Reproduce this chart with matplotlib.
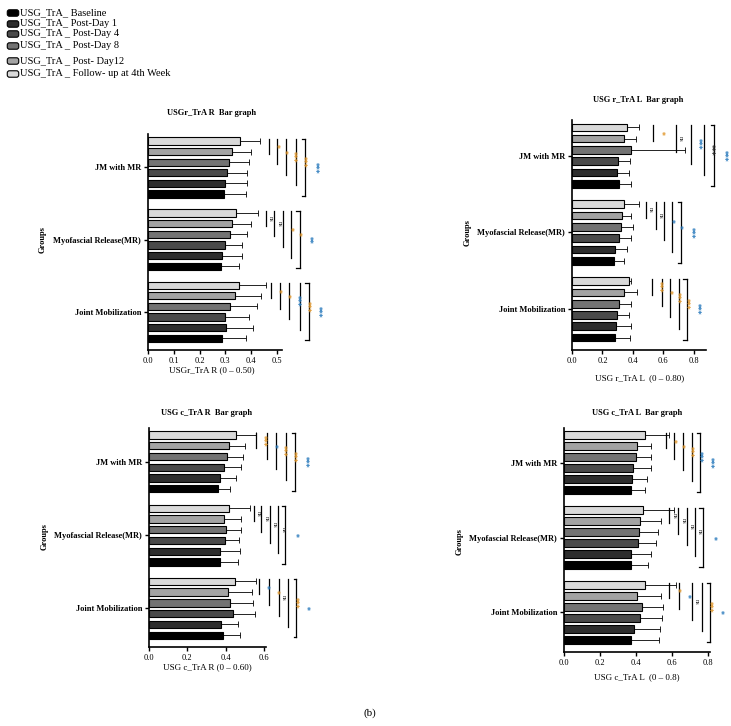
import numpy as np
import matplotlib
matplotlib.use("Agg")
import matplotlib.pyplot as plt
from matplotlib.patches import FancyBboxPatch

plt.rcParams['font.family'] = ['Liberation Serif', 'DejaVu Serif']

W, H = 731, 726

# categories (bottom -> top on the y axis)
groups = ["Joint Mobilization", "Myofascial Release(MR)", "JM with MR"]

# sessions, baseline first (drawn bottom of each group)
sessions = ["USG_TrA_ Baseline", "USG_TrA_ Post-Day 1", "USG_TrA _ Post-Day 4",
            "USG_TrA _ Post-Day 8", "USG_TrA _ Post- Day12",
            "USG_TrA _ Follow- up at 4th Week"]
colors = ['#000000', '#2d2d2d', '#4a4a4a', '#737373', '#a3a3a3', '#d9d9d9']

# --- panel values: rows = groups (JM, MR, JM with MR), cols = sessions ---
r_R_mean = [[0.286, 0.303, 0.300, 0.319, 0.338, 0.355],
            [0.285, 0.286, 0.300, 0.319, 0.325, 0.341],
            [0.295, 0.297, 0.308, 0.316, 0.325, 0.358]]
r_R_sd = [[0.095, 0.104, 0.090, 0.103, 0.100, 0.104],
          [0.070, 0.078, 0.064, 0.067, 0.074, 0.084],
          [0.086, 0.086, 0.075, 0.074, 0.074, 0.078]]

r_L_mean = [[0.280, 0.290, 0.295, 0.310, 0.340, 0.376],
            [0.273, 0.280, 0.310, 0.320, 0.326, 0.340],
            [0.310, 0.295, 0.300, 0.390, 0.340, 0.360]]
r_L_sd = [[0.100, 0.100, 0.081, 0.080, 0.090, 0.010],
          [0.067, 0.080, 0.080, 0.080, 0.064, 0.100],
          [0.080, 0.081, 0.080, 0.350, 0.080, 0.080]]

c_R_mean = [[0.386, 0.374, 0.438, 0.420, 0.412, 0.447],
            [0.369, 0.372, 0.397, 0.400, 0.393, 0.417],
            [0.358, 0.372, 0.390, 0.409, 0.417, 0.456]]
c_R_sd = [[0.087, 0.090, 0.113, 0.123, 0.124, 0.113],
          [0.097, 0.101, 0.073, 0.080, 0.087, 0.108],
          [0.066, 0.080, 0.090, 0.081, 0.083, 0.101]]

c_L_mean = [[0.374, 0.390, 0.420, 0.433, 0.407, 0.450],
            [0.370, 0.374, 0.410, 0.415, 0.420, 0.439],
            [0.374, 0.380, 0.383, 0.400, 0.407, 0.452]]
c_L_sd = [[0.155, 0.140, 0.124, 0.117, 0.133, 0.170],
          [0.097, 0.111, 0.103, 0.107, 0.120, 0.172],
          [0.078, 0.081, 0.100, 0.080, 0.078, 0.131]]

# significance: (x of line, label, colour) follow-up vs Day12, Day8, Day4, Day1, Baseline
r_R_sig = [[(0.476, '*', 'o'), (0.513, '*', 'o'), (0.549, '***', 'b'), (0.588, '***', 'o'), (0.623, '***', 'b')],
           [(0.457, 'ns', 'k'), (0.490, 'ns', 'k'), (0.522, '*', 'o'), (0.555, '*', 'o'), (0.588, '**', 'b')],
           [(0.470, '*', 'o'), (0.500, '*', 'o'), (0.535, '***', 'o'), (0.575, '***', 'o'), (0.610, '***', 'b')]]
r_L_sig = [[(0.525, '***', 'o'), (0.590, '*', 'o'), (0.645, '***', 'o'), (0.704, '***', 'o'), (0.754, '***', 'b')],
           [(0.487, 'ns', 'k'), (0.551, 'ns', 'k'), (0.605, '*', 'b'), (0.655, '*', 'b'), (0.715, '***', 'b')],
           [(0.535, '*', 'o'), (0.680, 'ns', 'k'), (0.780, '***', 'b'), (0.868, '***', 'k'), (0.933, '***', 'b')]]
c_R_sig = [[(0.573, '*', 'b'), (0.627, '*', 'o'), (0.679, 'ns', 'k'), (0.723, '***', 'o'), (0.769, '*', 'b')],
           [(0.547, 'ns', 'k'), (0.586, 'ns', 'k'), (0.632, 'ns', 'k'), (0.675, 'ns', 'k'), (0.709, '*', 'b')],
           [(0.559, '***', 'o'), (0.615, '*', 'b'), (0.663, '***', 'o'), (0.715, '***', 'o'), (0.760, '***', 'b')]]
c_L_sig = [[(0.585, '*', 'o'), (0.640, '*', 'b'), (0.709, 'ns', 'k'), (0.765, '***', 'o'), (0.811, '*', 'b')],
           [(0.585, 'ns', 'k'), (0.635, 'ns', 'k'), (0.680, 'ns', 'k'), (0.728, 'ns', 'k'), (0.770, '*', 'b')],
           [(0.565, '*', 'o'), (0.612, '*', 'o'), (0.660, '***', 'o'), (0.710, '***', 'b'), (0.757, '***', 'b')]]

sig_colors = {'o': '#e0962a', 'b': '#2b7bbd', 'k': '#222222'}

panels = [
    # mean, sd, sig, [left, top, right, bottom] px, xmax, ticks, title, xlabel, title pos, xlabel pos, groups pos
    (r_R_mean, r_R_sd, r_R_sig, [148, 134, 282, 350], 0.52, [0, 0.1, 0.2, 0.3, 0.4, 0.5],
     "USGr_TrA R  Bar graph", "USGr_TrA R (0 – 0.50)", (212, 113), (212, 370), (43, 240)),
    (r_L_mean, r_L_sd, r_L_sig, [572, 120, 706, 350], 0.88, [0, 0.2, 0.4, 0.6, 0.8],
     "USG r_TrA L  Bar graph", "USG r_TrA L  (0 – 0.80)", (638, 100), (640, 378), (468, 233)),
    (c_R_mean, c_R_sd, c_R_sig, [149, 428, 266, 647], 0.61, [0, 0.2, 0.4, 0.6],
     "USG c_TrA R  Bar graph", "USG c_TrA R (0 – 0.60)", (207, 413), (207, 667), (45, 537)),
    (c_L_mean, c_L_sd, c_L_sig, [564, 428, 710, 652], 0.81, [0, 0.2, 0.4, 0.6, 0.8],
     "USG c_TrA L  Bar graph", "USG c_TrA L  (0 – 0.8)", (637, 413), (637, 677), (460, 542)),
]

fig = plt.figure(figsize=(W / 100, H / 100), dpi=100)

gc = np.array([0.0, 6.8, 13.6])
bar_h = 0.68

for mean, sd, sig, box, xmax, ticks, title, xlab, tpos, xpos, gpos in panels:
    l, t, r, b = box
    ax = fig.add_axes([l / W, 1 - b / H, (r - l) / W, (b - t) / H])
    mean = np.array(mean)
    sd = np.array(sd)
    for k in range(6):
        y = gc + k - 2.5
        ax.barh(y, mean[:, k], height=bar_h, color=colors[k], edgecolor='black', linewidth=0.8, zorder=2)
        ax.errorbar(mean[:, k], y, xerr=[np.zeros(3), sd[:, k]], fmt='none', ecolor='black',
                    elinewidth=0.6, capsize=2, capthick=0.6, zorder=1)
    ax.set_xlim(0, xmax)
    ax.set_ylim(-3.6, 16.75)
    ax.set_xticks(ticks)
    ax.set_xticklabels([f"{v:.1f}" for v in ticks], fontsize=6)
    ax.set_yticks(gc)
    ax.set_yticklabels(groups, fontsize=6, fontweight='bold')
    ax.tick_params(axis='both', length=3, width=1, pad=2)
    for s in ['top', 'right']:
        ax.spines[s].set_visible(False)
    for s in ['left', 'bottom']:
        ax.spines[s].set_linewidth(1.2)

    tick = xmax * 0.025
    for gi in range(3):
        y_top = gc[gi] + 2.5
        for j, (x, lab, col) in enumerate(sig[gi]):
            y_bot = gc[gi] + 2.5 - (j + 1)
            ax.plot([x, x], [y_top + 0.2, y_bot - 0.2], color='black', lw=0.9, clip_on=False)
            off = 1.5
            if j == 4:
                off = 3.5
                ax.plot([x - tick, x], [y_top + 0.2] * 2, color='black', lw=0.9, clip_on=False)
                ax.plot([x - tick, x], [y_bot - 0.2] * 2, color='black', lw=0.9, clip_on=False)
            if lab == 'ns':
                ax.annotate(lab, (x, (y_top + y_bot) / 2), xytext=(off, 0), textcoords='offset points',
                            rotation=270, va='center', ha='left', fontsize=4.5, color=sig_colors[col],
                            annotation_clip=False)
            else:
                ax.annotate(lab, (x, (y_top + y_bot) / 2), xytext=(off, 0), textcoords='offset points',
                            rotation=270, va='center', ha='left', fontsize=5.5, fontweight='bold',
                            color=sig_colors[col], family='DejaVu Sans', annotation_clip=False)

    fig.text(tpos[0] / W, 1 - tpos[1] / H, title, fontsize=6, fontweight='bold', ha='center', va='center')
    fig.text(xpos[0] / W, 1 - xpos[1] / H, xlab, fontsize=6.5, ha='center', va='center')
    fig.text(gpos[0] / W, 1 - gpos[1] / H, "Groups", fontsize=6, fontweight='bold', rotation=90,
             ha='center', va='center')

# legend at top-left
leg_y = [13, 24, 34, 46, 61, 74]
for k in range(6):
    fig.patches.append(FancyBboxPatch((8 / W, 1 - (leg_y[k] + 2.5) / H), 10 / W, 5 / H,
                                      boxstyle="round,pad=0.001,rounding_size=0.003",
                                      facecolor=colors[k], edgecolor='black', linewidth=0.8,
                                      transform=fig.transFigure, figure=fig))
    fig.text(20 / W, 1 - leg_y[k] / H, sessions[k], fontsize=7.5, ha='left', va='center')

fig.text(370 / W, 1 - 713 / H, "(b)", fontsize=8, ha='center', va='center')

fig.savefig("out.png", dpi=100)
